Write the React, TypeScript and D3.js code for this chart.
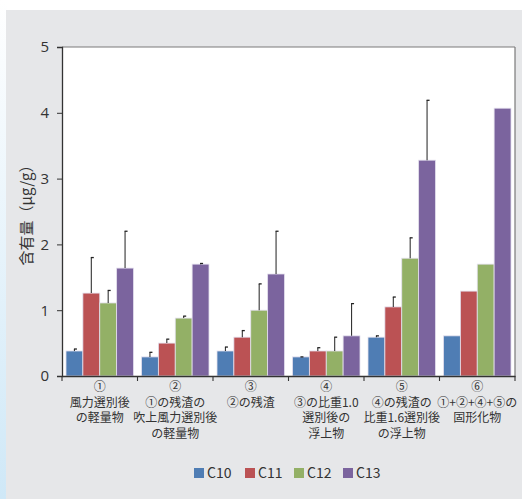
import React, { useEffect, useRef } from "react";
import * as d3 from "d3";

const categories = ["①", "②", "③", "④", "⑤", "⑥"];
const categoryLines = [
  ["①", "風力選別後", "の軽量物"],
  ["②", "①の残渣の", "吹上風力選別後", "の軽量物"],
  ["③", "②の残渣"],
  ["④", "③の比重1.0", "選別後の", "浮上物"],
  ["⑤", "④の残渣の", "比重1.6選別後", "の浮上物"],
  ["⑥", "①+②+④+⑤の", "固形化物"],
];
const seriesNames = ["C10", "C11", "C12", "C13"];
const c10 = [0.38, 0.29, 0.38, 0.29, 0.59, 0.61];
const c11 = [1.26, 0.5, 0.59, 0.38, 1.05, 1.29];
const c12 = [1.11, 0.88, 1.0, 0.38, 1.79, 1.7];
const c13 = [1.64, 1.7, 1.55, 0.61, 3.28, 4.07];
// upper end of error bars (null = none)
const c10Err = [0.41, 0.36, 0.44, 0.29, 0.61, null];
const c11Err = [1.8, 0.56, 0.69, 0.43, 1.2, null];
const c12Err = [1.3, 0.91, 1.4, 0.59, 2.1, null];
const c13Err = [2.2, 1.71, 2.2, 1.1, 4.19, null];
const yTicks = [0, 1, 2, 3, 4, 5];
const colors = ["#4f7db4", "#bb5254", "#93b066", "#7b649e"];

const App: React.FC = () => {
  const svgRef = useRef<SVGSVGElement>(null);

  useEffect(() => {
    if (!svgRef.current) return;
    const svg = d3.select(svgRef.current);
    svg.selectAll("*").remove();

    const W = 522, H = 499;
    const margin = { top: 47, right: 7, bottom: 123, left: 62 };
    const width = W - margin.left - margin.right;
    const h = H - margin.top - margin.bottom;
    const values = [c10, c11, c12, c13];
    const errs = [c10Err, c11Err, c12Err, c13Err];

    // background
    const defs = svg.append("defs");
    const grad = defs.append("linearGradient").attr("id", "side").attr("x1", 0).attr("y1", 0).attr("x2", 0).attr("y2", 1);
    grad.append("stop").attr("offset", "0%").attr("stop-color", "#ffffff");
    grad.append("stop").attr("offset", "100%").attr("stop-color", "#cfe8f7");
    svg.append("rect").attr("width", W).attr("height", H).attr("fill", "#ffffff");
    svg.append("rect").attr("x", 0).attr("y", 0).attr("width", 7).attr("height", H).attr("fill", "url(#side)");
    svg.append("rect").attr("x", 6).attr("y", 10).attr("width", W - 6).attr("height", H - 10).attr("fill", "#e6e7e9");

    const g = svg.append("g").attr("transform", `translate(${margin.left},${margin.top})`);
    g.append("rect").attr("width", width).attr("height", h).attr("fill", "#ffffff");

    const x0 = d3.scaleBand().domain(categories).range([0, width]).paddingInner(0).paddingOuter(0);
    const x1 = d3.scaleBand().domain(seriesNames).range([4, x0.bandwidth() - 4]).padding(0);
    const y = d3.scaleLinear().domain([0, 5]).range([h, 0]);

    // frame top/right
    g.append("line").attr("x1", 0).attr("x2", width).attr("y1", 0).attr("y2", 0).attr("stroke", "#7a7a7a").attr("stroke-width", 1.2);
    g.append("line").attr("x1", width).attr("x2", width).attr("y1", 0).attr("y2", h).attr("stroke", "#7a7a7a").attr("stroke-width", 1.2);

    // bars
    seriesNames.forEach((s, si) => {
      g.append("g")
        .selectAll("rect")
        .data(values[si])
        .enter()
        .append("rect")
        .attr("x", (_, i) => (x0(categories[i]) || 0) + (x1(s) || 0))
        .attr("width", x1.bandwidth())
        .attr("y", d => y(d))
        .attr("height", d => h - y(d))
        .attr("fill", colors[si])
        .attr("stroke", "#e4e0ee")
        .attr("stroke-width", 0.8);
    });

    // error bars
    seriesNames.forEach((s, si) => {
      errs[si].forEach((e, i) => {
        if (e == null) return;
        const cx = (x0(categories[i]) || 0) + (x1(s) || 0) + x1.bandwidth() / 2;
        g.append("line").attr("x1", cx).attr("x2", cx).attr("y1", y(values[si][i])).attr("y2", y(e))
          .attr("stroke", "#333").attr("stroke-width", 1.1);
        g.append("line").attr("x1", cx - 0.5).attr("x2", cx + 2.5).attr("y1", y(e)).attr("y2", y(e))
          .attr("stroke", "#222").attr("stroke-width", 1.3);
      });
    });

    // y axis
    const yAxis = g.append("g").call(d3.axisLeft(y).tickValues(yTicks).tickSize(5).tickFormat(d3.format("d")));
    yAxis.select(".domain").attr("stroke", "#333").attr("stroke-width", 1.3);
    yAxis.selectAll(".tick line").attr("stroke", "#333");
    yAxis.selectAll("text").attr("fill", "#333").attr("font-size", 15).attr("font-family", "Open Sans, sans-serif").attr("x", -13);

    // x axis
    const xAxis = g.append("g").attr("transform", `translate(0,${h})`)
      .call(d3.axisBottom(x0).tickSize(0).tickFormat(() => ""));
    xAxis.select(".domain").attr("stroke", "#333").attr("stroke-width", 1.3);
    const bounds = d3.range(categories.length + 1).map(i => i * x0.step());
    g.selectAll(".xb").data(bounds).enter().append("line")
      .attr("x1", d => d).attr("x2", d => d).attr("y1", h).attr("y2", h + 5)
      .attr("stroke", "#333").attr("stroke-width", 1.1);

    categoryLines.forEach((lines, i) => {
      const cx = (x0(categories[i]) || 0) + x0.bandwidth() / 2;
      lines.forEach((ln, li) => {
        g.append("text").attr("text-anchor", "middle").attr("fill", "#333")
          .attr("font-family", "Noto Sans CJK JP, sans-serif").attr("font-size", 12)
          .attr("x", cx).attr("y", h + 15 + li * 15.7).text(ln);
      });
    });

    // y label
    svg.append("text")
      .attr("transform", `translate(32,${margin.top + h / 2}) rotate(-90)`)
      .attr("text-anchor", "middle")
      .attr("fill", "#333")
      .attr("font-family", "Noto Sans CJK JP, sans-serif")
      .attr("font-size", 15)
      .text("含有量（μg/g）");

    // legend
    const legendX = [194, 245, 294, 343];
    seriesNames.forEach((s, si) => {
      const lg = svg.append("g").attr("transform", `translate(${legendX[si]},468)`);
      lg.append("rect").attr("width", 10).attr("height", 10).attr("fill", colors[si]);
      lg.append("text").attr("x", 13).attr("y", 10).attr("fill", "#333")
        .attr("font-family", "Noto Sans CJK JP, sans-serif").attr("font-size", 14).text(s);
    });
  }, []);

  return (
    <div style={{ position: "fixed", left: 0, top: 0 }}>
      <svg ref={svgRef} width={522} height={499} style={{ display: "block" }} />
    </div>
  );
};

export default App;
